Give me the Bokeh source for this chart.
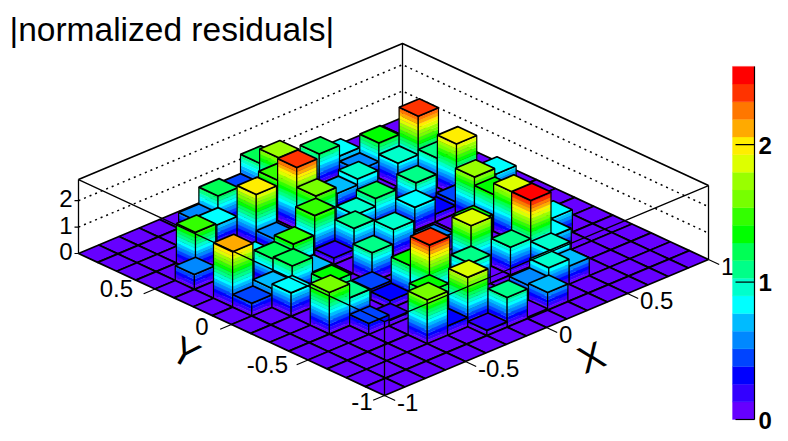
from bokeh.plotting import figure
from bokeh.models import ColumnDataSource
from bokeh.core.properties import value
from bokeh.embed import file_html
from bokeh.resources import INLINE
import math

title_text = "|normalized residuals|"
n_bins = 16
z_max = 2.57
box_top = 2.8
n_levels = 20
# |residual| per cell; rows run along Y (from -1), columns along X (from -1)
y00 = [0, 0, 0, 0, 0, 0, 0, 0, 0, 0, 0, 0, 0, 0, 0, 0]
y01 = [0, 0, 0, 0, 0, 0, .2, 1.12, .05, .67, 0, 0, 0, 0, 0, 0]
y02 = [0, 0, 0, 0, 1.66, .35, 1.87, 0, 0, .6, .95, .68, 0, 0, 0, 0]
y03 = [0, 0, 0, 0, 0, 1.3, 0, 0, 0, 0, 0, .95, 0, 0, 0, 0]
y04 = [0, 0, 0, .42, .2, 0, 2.42, 0, 1.08, 0, 1.05, 2.5, .8, 0, 0, 0]
y05 = [0, 0, 1.58, 1.05, 0, .3, 1.3, 0, 0, 1.85, 0, 0, 0, .85, 0, 0]
y06 = [0, 0, 0, 1.3, 0, .4, 0, 0, 0, 0, 1.3, 0, 1.82, 0, 0, 0]
y07 = [0, 0, .89, 0, 0, 0, 1.12, 0, 0, .58, 0, 0, 1.4, 0, 0, 0]
y08 = [0, .48, .72, 1.25, .7, 0, 0, 0, 1.02, 0, 0, 0, 1.72, 0, 0, 0]
y09 = [0, 2.1, 0, 1.18, 1.42, 0, .25, 1.05, 0, 0, .88, .3, .45, 0, .85, 0]
y10 = [0, 0, 0, .85, 0, 0, 1.52, 0, .9, 1.2, 0, 1.15, 0, 1.98, 0, 0]
y11 = [0, .56, 0, 0, 0, .6, 0, 1.6, 0, 0, 0, 0, 0, 1.1, 0, 0]
y12 = [0, 0, 1.5, 0, 0, 1.97, 0, 2.35, 0, .72, .95, 0, .9, 2.36, 0, 0]
y13 = [0, 0, 0, 0, .8, 0, 0, 1.53, 0, 0, 0, .62, 1.33, 0, 0, 0]
y14 = [0, 0, 0, 0, .6, 1.24, 0, 0, 1.72, 0, 1.22, .82, 0, 0, 0, 0]
y15 = [0, 0, 0, 0, 0, 0, 0, .45, 1.18, 0, 0, 0, 0, 0, 0, 0]
z_values = [y00, y01, y02, y03, y04, y05, y06, y07, y08, y09, y10, y11, y12, y13, y14, y15]
palette = ["#6600ff", "#3300ff", "#0000ff", "#0044ff", "#0088ff", "#00bbff", "#00ffff",
           "#00ffcc", "#00ff88", "#00ff55", "#00ff00", "#33ff00", "#77ff00", "#99ff00",
           "#ddff00", "#ffee00", "#ffaa00", "#ff7700", "#ff3300", "#ff0000"]
z_ticks = [0, 1, 2]
x_ticks = [-1, -0.5, 0, 0.5, 1]
y_ticks = [-1, -0.5, 0, 0.5]
x_labels = ["-1", "-0.5", "0", "0.5", "1"]
y_labels = ["-1", "-0.5", "0", "0.5"]
z_labels = ["0", "1", "2"]

# parallel projection (page pixels)
OX, OY = 384.0, 395.0
EX = (324.0 / 2, -136.0 / 2)
EY = (-306.0 / 2, -142.0 / 2)
ZS = 26.4


def proj(x, y, z=0.0):
    return (OX + (x + 1) * EX[0] + (y + 1) * EY[0], OY + (x + 1) * EX[1] + (y + 1) * EY[1] - z * ZS)


p = figure(width=788, height=441, x_range=(0, 788), y_range=(441, 0),
           output_backend="svg", toolbar_location=None, min_border=0)
p.axis.visible = False
p.grid.visible = False
p.outline_line_color = None
p.background_fill_color = "white"

step = 2.0 / n_bins
level = z_max / n_levels


def band(z):
    return min(n_levels - 1, int(z / level))


xx, yy, fc, fa, lc, lwd = [], [], [], [], [], []


def poly(pts, color, alpha, line, lw):
    xx.append([q[0] for q in pts]); yy.append([q[1] for q in pts])
    fc.append(color); fa.append(alpha); lc.append(line); lwd.append(lw)


def wall(a, b, h):
    k = 0
    while k * level < h:
        z0, z1 = k * level, min(h, (k + 1) * level)
        c = palette[min(k, n_levels - 1)]
        poly([proj(*a, z0), proj(*b, z0), proj(*b, z1), proj(*a, z1)], c, 1.0, c, 0.3)
        k += 1
    poly([proj(*a, 0), proj(*b, 0), proj(*b, h), proj(*a, h)], "#000000", 0.0, "#000000", 1.2)


for iy in range(n_bins - 1, -1, -1):
    for ix in range(n_bins - 1, -1, -1):
        h = z_values[iy][ix]
        x0, x1 = -1 + ix * step, -1 + (ix + 1) * step
        y0, y1 = -1 + iy * step, -1 + (iy + 1) * step
        if h > 0:
            wall((x0, y1), (x0, y0), h)
            wall((x0, y0), (x1, y0), h)
        poly([proj(x0, y0, h), proj(x1, y0, h), proj(x1, y1, h), proj(x0, y1, h)],
             palette[band(h)], 1.0, "#000000", 1.7)

left = (-1, 1)
back = (1, 1)
right = (1, -1)
front = (-1, -1)
for z in z_ticks[1:]:
    q = [proj(*left, z), proj(*back, z), proj(*right, z)]
    p.line([a[0] for a in q], [a[1] for a in q], line_color="black", line_width=1.5, line_dash="2 4")
q = [proj(*left, box_top), proj(*back, box_top), proj(*right, box_top)]
p.line([a[0] for a in q], [a[1] for a in q], line_color="black", line_width=1.7)
for c in (left, back, right):
    q = [proj(*c, 0), proj(*c, box_top)]
    p.line([a[0] for a in q], [a[1] for a in q], line_color="black", line_width=1.3)

p.patches(xs="xs", ys="ys", fill_color="fc", fill_alpha="fa", line_color="lc", line_width="lw",
          source=ColumnDataSource(dict(xs=xx, ys=yy, fc=fc, fa=fa, lc=lc, lw=lwd)))

# front box on top
q = [proj(*left, box_top), proj(*front, box_top), proj(*right, box_top)]
p.line([a[0] for a in q], [a[1] for a in q], line_color="black", line_width=1.3)
q = [proj(*front, 0), proj(*front, box_top)]
p.line([a[0] for a in q], [a[1] for a in q], line_color="black", line_width=1.3)

FONT = value("Liberation Sans")
TS = 24


def base(y, size):
    # page position of the text baseline
    return y - 0.33 * size


for z, lab in zip(z_ticks, z_labels):
    a = proj(*left, z)
    p.line([a[0] - 4, a[0]], [a[1], a[1]], line_color="black", line_width=1.2)
    p.text([a[0] - 6], [base(a[1] + 6, TS)], text=[lab], text_font=FONT, text_font_size=f"{TS}px",
           text_align="right", text_baseline="alphabetic", text_color="black")
y_off = [(-12, 14), (-20, 12.5), (-23, 10), (-22, 7.5)]
for t, lab, (dx, dy) in zip(y_ticks, y_labels, y_off):
    a = proj(-1, t, 0)
    p.line([a[0], a[0] - 0.07 * EX[0]], [a[1], a[1] - 0.07 * EX[1]], line_color="black", line_width=1.2)
    p.text([a[0] + dx], [base(a[1] + dy, TS)], text=[lab], text_font=FONT, text_font_size=f"{TS}px",
           text_align="right", text_baseline="alphabetic", text_color="black")
for t, lab in zip(x_ticks, x_labels):
    a = proj(t, -1, 0)
    p.line([a[0], a[0] - 0.07 * EY[0]], [a[1], a[1] - 0.07 * EY[1]], line_color="black", line_width=1.2)
    p.text([a[0] + 12.5], [base(a[1] + 15, TS)], text=[lab], text_font=FONT, text_font_size=f"{TS}px",
           text_align="left", text_baseline="alphabetic", text_color="black")

p.text([591], [357], text=["X"], text_font=FONT, text_font_size="38px", angle=[math.radians(22)],
       text_align="center", text_baseline="middle", text_color="black")
p.text([185], [352], text=["Y"], text_font=FONT, text_font_size="38px", angle=[math.radians(-30)],
       text_align="center", text_baseline="middle", text_color="black")

p.text([9], [base(40, 33.5)], text=[title_text], text_font=FONT, text_font_size="33.5px",
       text_align="left", text_baseline="alphabetic", text_color="black")

CB_L, CB_R = 732.0, 754.0
CB0, CBS = 419.0, 137.4
for k, c in enumerate(palette):
    p.quad(left=CB_L, right=CB_R, bottom=CB0 - k * level * CBS, top=CB0 - (k + 1) * level * CBS,
           fill_color=c, line_color=c, line_width=0.3)
p.line([CB_R, CB_R], [CB0, CB0 - z_max * CBS], line_color="black", line_width=1.2)
for z, lab in zip(z_ticks, z_labels):
    y = CB0 - z * CBS
    p.line([735, CB_R], [y, y], line_color="black", line_width=1.2)
    p.text([758], [base(y + 8.5, TS)], text=[lab], text_font=FONT, text_font_style="bold", text_font_size=f"{TS}px",
           text_align="left", text_baseline="alphabetic", text_color="black")

open("out.html", "w").write(file_html(p, INLINE))
